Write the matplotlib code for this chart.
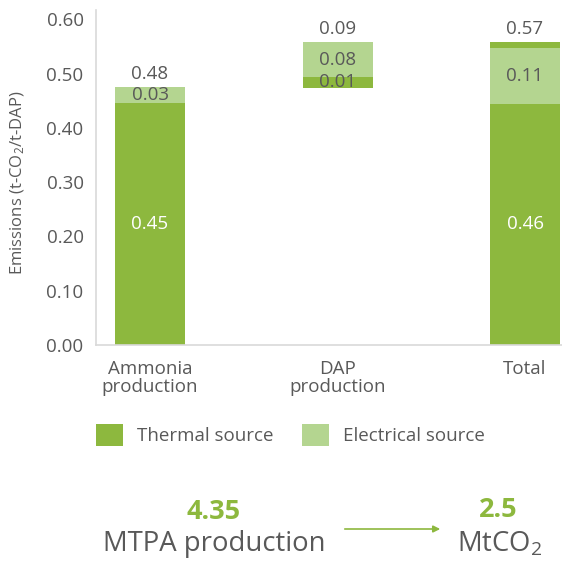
import matplotlib
matplotlib.use('Agg')

import numpy as np
import matplotlib.pyplot as plt

plt.rcParams['font.family'] = ['Open Sans', 'DejaVu Sans']
plt.rcParams['mathtext.default'] = 'regular'

# data
categories = ["Ammonia\nproduction", "DAP\nproduction", "Total"]
base = [0.0, 0.474, 0.0]
thermal = [0.445, 0.019, 0.444]
electrical = [0.030, 0.065, 0.103]
thermal_top = [0.0, 0.0, 0.011]   # DAP thermal part stacked on top of the total bar
thermal_labels = ["0.45", "0.01", "0.46"]
electrical_labels = ["0.03", "0.08", "0.11"]
total_labels = ["0.48", "0.09", "0.57"]
production = "4.35"
emissions = "2.5"

green = '#8DB83E'
light = '#B4D590'
grey = '#595959'
fs = 13.5

W, H = 562, 572
fig = plt.figure(figsize=(W / 100, H / 100), dpi=100)
ax = fig.add_axes([96 / W, 1 - 345 / H, 1 - 96 / W, (345 - 10) / H])

x = np.arange(len(categories))
bw = 0.373
base = np.array(base)
thermal = np.array(thermal)
electrical = np.array(electrical)
thermal_top = np.array(thermal_top)

b1 = ax.bar(x, thermal, bw, bottom=base, color=green, label='Thermal source')
b2 = ax.bar(x, electrical, bw, bottom=base + thermal, color=light, label='Electrical source')
ax.bar(x, thermal_top, bw, bottom=base + thermal + electrical, color=green)

tops = base + thermal + electrical + thermal_top
for i in range(len(x)):
    tcol = grey if thermal[i] < 0.05 else 'white'
    ax.text(x[i], base[i] + thermal[i] / 2, thermal_labels[i], ha='center', va='center',
            color=tcol, fontsize=fs)
    ax.text(x[i], base[i] + thermal[i] + electrical[i] / 2, electrical_labels[i],
            ha='center', va='center', color=grey, fontsize=fs)
    ax.annotate(total_labels[i], (x[i], tops[i]), xytext=(0, 9.5), textcoords='offset points',
                ha='center', va='center', color=grey, fontsize=fs)

ax.set_xlim(-0.288, 2.197)
ax.set_ylim(0, 0.617)
ax.set_yticks(np.arange(0, 0.61, 0.1))
ax.set_yticklabels([f"{v:.2f}" for v in np.arange(0, 0.61, 0.1)])
ax.set_xticks(x)
ax.set_xticklabels(categories, linespacing=1.0)
ax.tick_params(length=0, labelsize=fs, labelcolor=grey)
ax.tick_params(axis='y', pad=9)
ax.tick_params(axis='x', pad=11)
for s in ['top', 'right']:
    ax.spines[s].set_visible(False)
for s in ['left', 'bottom']:
    ax.spines[s].set_color('#D9D9D9')
    ax.spines[s].set_linewidth(1.2)

fig.text(18 / W, 1 - 183 / H, 'Emissions (t-CO$_2$/t-DAP)', rotation=90,
         ha='center', va='center', color=grey, fontsize=12)

fig.legend(handles=[b1, b2], loc='center left', bbox_to_anchor=(96 / W, 1 - 435 / H),
           frameon=False, ncol=2, fontsize=fs, labelcolor=grey, handlelength=1.45,
           handleheight=1.45, handletextpad=0.75, columnspacing=1.5, borderpad=0,
           borderaxespad=0)

fig.text(214 / W, 1 - 512 / H, production, ha='center', va='center', color=green,
         fontsize=19.5, fontweight='bold')
fig.text(214 / W, 1 - 544 / H, 'MTPA production', ha='center', va='center', color=grey,
         fontsize=19.8)
fig.text(498 / W, 1 - 510 / H, emissions, ha='center', va='center', color=green,
         fontsize=19.5, fontweight='bold')
fig.text(500 / W, 1 - 544 / H, 'MtCO$_2$', ha='center', va='center', color=grey,
         fontsize=19.8)
fig.add_artist(matplotlib.patches.FancyArrowPatch(
    (342 / W, 1 - 529 / H), (443 / W, 1 - 529 / H), transform=fig.transFigure,
    arrowstyle='-|>', mutation_scale=10, color=green, lw=1.2))

fig.savefig('out.png', dpi=100)
